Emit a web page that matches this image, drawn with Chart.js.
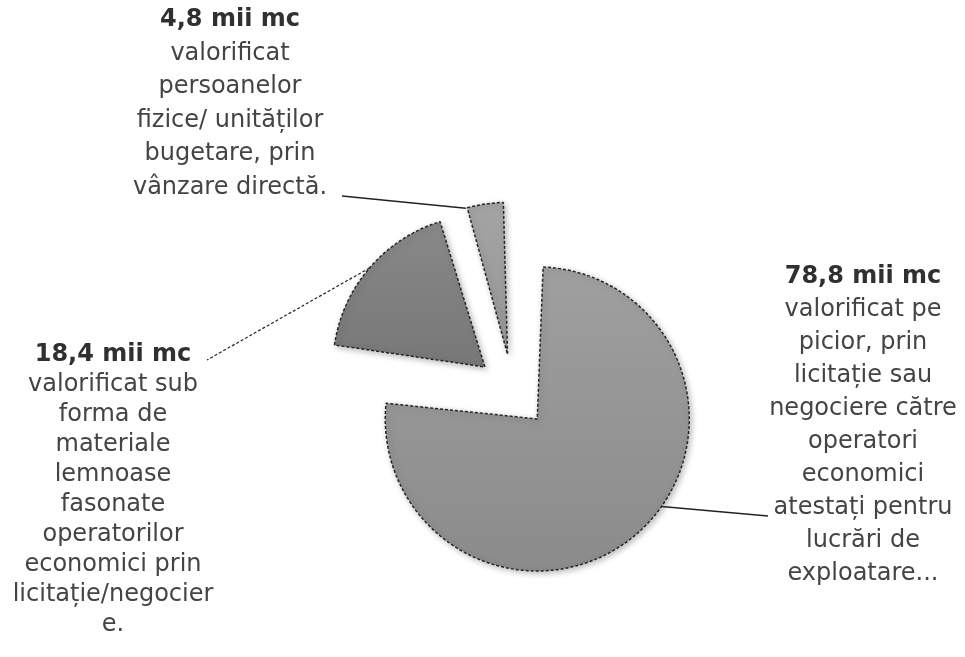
<!DOCTYPE html>
<html lang="ro">
<head>
<meta charset="utf-8">
<title>Masa lemnoasă valorificată</title>
<script src="https://cdn.jsdelivr.net/npm/chart.js@4.4.1/dist/chart.umd.min.js"></script>
<style>
  html, body { margin: 0; padding: 0; background: #fff; }
  #wrap { width: 965px; height: 657px; position: relative; }
</style>
</head>
<body>
<div id="wrap"><canvas id="pieChart"></canvas></div>
<script>
// volum valorificat, mii mc
const categories = ['pe picior', 'materiale lemnoase fasonate', 'vânzare directă'];
const values = [78.8, 18.4, 4.8];
const valueLabels = ['78,8 mii mc', '18,4 mii mc', '4,8 mii mc'];
const descriptions = [
    ['valorificat pe', 'picior, prin', 'licitație sau', 'negociere către', 'operatori', 'economici', 'atestați pentru', 'lucrări de', 'exploatare...'],
    ['valorificat sub', 'forma de', 'materiale', 'lemnoase', 'fasonate', 'operatorilor', 'economici prin', 'licitație/negocier', 'e.'],
    ['valorificat', 'persoanelor', 'fizice/ unităților', 'bugetare, prin', 'vânzare directă.']
];

// look & layout
const RADIUS = 152;
const EXPLODE = 148;          // arc offset option (library translates by offset / 4)
const sliceColors = [['#a2a2a2', '#8b8b8b'], ['#8e8e8e', '#656565'], ['#a8a8a8', '#888888']];
const labelBoxes = [
    { x: 863, y: 277, lineHeight: 33, anchor: 0.45, lineTo: [768, 516], dash: [] },
    { x: 113, y: 355, lineHeight: 30, anchor: 0.5, lineTo: [207, 360], dash: [3, 2] },
    { x: 230, y: 20, lineHeight: 33.5, anchor: 0.06, lineTo: [342, 196], dash: [] }
];
const FONT = '"DejaVu Sans", Verdana, sans-serif';

function sliceGradient(context) {
    const chart = context.chart;
    const c = sliceColors[context.dataIndex] || sliceColors[0];
    const area = chart.chartArea;
    if (!area) return c[0];
    const cy = (area.top + area.bottom) / 2;
    const g = chart.ctx.createLinearGradient(0, cy - RADIUS - 40, 0, cy + RADIUS);
    g.addColorStop(0, c[0]);
    g.addColorStop(1, c[1]);
    return g;
}

// keep every slice at the same radius after the offset pushes it out
const radiusFix = {
    id: 'radiusFix',
    afterDatasetUpdate(chart) {
        chart.getDatasetMeta(0).data.forEach(arc => {
            const circ = arc.endAngle - arc.startAngle;
            const fix = 1 - Math.sin(Math.min(Math.PI, circ));
            arc.outerRadius = RADIUS - fix * EXPLODE / 4;
        });
    }
};

const callouts = {
    id: 'callouts',
    beforeDatasetsDraw(chart) {
        const ctx = chart.ctx;
        ctx.save();
        ctx.shadowColor = 'rgba(0,0,0,0.28)';
        ctx.shadowBlur = 6;
        ctx.shadowOffsetX = 2;
        ctx.shadowOffsetY = 2;
    },
    afterDatasetsDraw(chart) {
        const ctx = chart.ctx;
        ctx.restore();

        chart.getDatasetMeta(0).data.forEach((arc, i) => {
            const box = labelBoxes[i];
            const mid = (arc.startAngle + arc.endAngle) / 2;
            const shift = EXPLODE / 4;
            const vx = arc.x + Math.cos(mid) * shift;
            const vy = arc.y + Math.sin(mid) * shift;
            const a = arc.startAngle + (arc.endAngle - arc.startAngle) * box.anchor;
            const ax = vx + Math.cos(a) * RADIUS;
            const ay = vy + Math.sin(a) * RADIUS;

            ctx.save();
            ctx.strokeStyle = '#222';
            ctx.lineWidth = box.dash.length ? 1.2 : 1.6;
            ctx.setLineDash(box.dash);
            ctx.beginPath();
            ctx.moveTo(ax, ay);
            ctx.lineTo(box.lineTo[0], box.lineTo[1]);
            ctx.stroke();
            ctx.restore();

            ctx.save();
            ctx.textAlign = 'center';
            ctx.textBaseline = 'middle';
            ctx.fillStyle = '#303030';
            ctx.font = 'bold 24px ' + FONT;
            ctx.fillText(valueLabels[i], box.x, box.y);
            ctx.fillStyle = '#444';
            ctx.font = '24px ' + FONT;
            descriptions[i].forEach((line, k) => {
                ctx.fillText(line, box.x, box.y + (k + 1) * box.lineHeight);
            });
            ctx.restore();
        });
    }
};

new Chart(document.getElementById('pieChart'), {
    type: 'pie',
    data: {
        labels: categories,
        datasets: [{
            data: values,
            backgroundColor: sliceGradient,
            borderColor: '#262626',
            borderWidth: 1.5,
            borderDash: [3, 2],
            offset: EXPLODE
        }]
    },
    options: {
        responsive: true,
        maintainAspectRatio: false,
        animation: false,
        radius: RADIUS,
        layout: { padding: { left: 61, right: 0, top: 125, bottom: 0 } },
        plugins: {
            legend: { display: false },
            tooltip: { enabled: false }
        }
    },
    plugins: [radiusFix, callouts]
});
</script>
</body>
</html>
